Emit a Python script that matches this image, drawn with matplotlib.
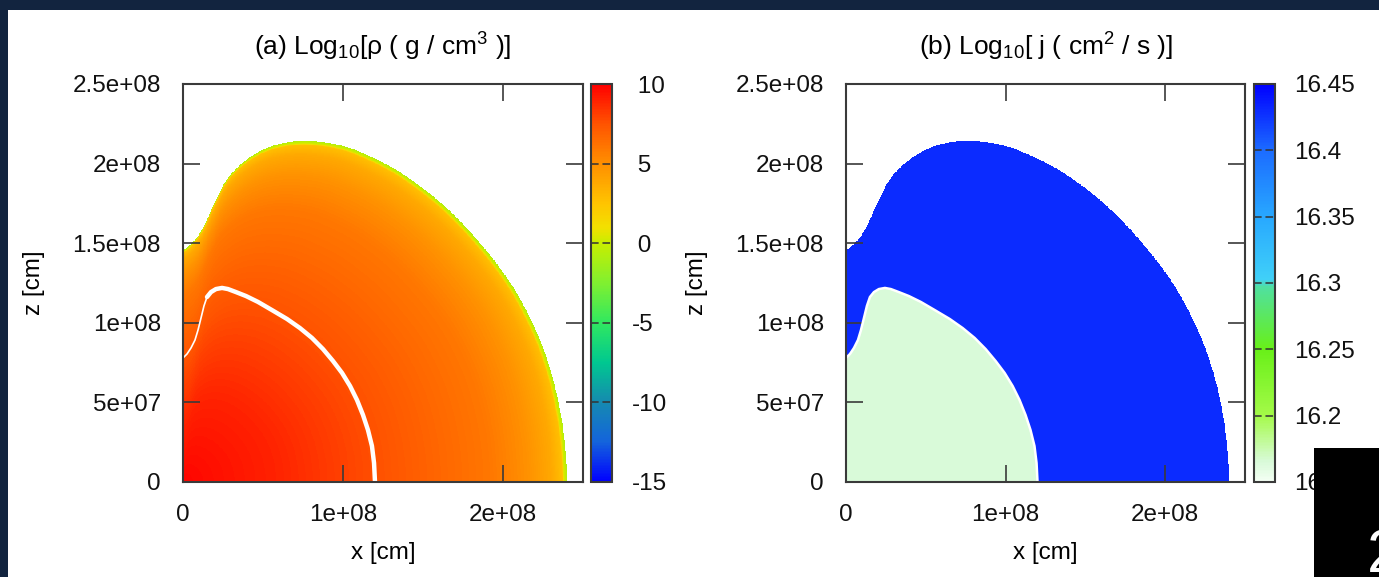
import numpy as np
import matplotlib
matplotlib.use("Agg")
import matplotlib.pyplot as plt
from matplotlib.colors import LinearSegmentedColormap
from matplotlib.patches import Rectangle

plt.rcParams['font.family'] = ['Liberation Sans', 'DejaVu Sans']
plt.rcParams['mathtext.fontset'] = 'custom'
plt.rcParams['mathtext.rm'] = 'Liberation Sans'
plt.rcParams['mathtext.it'] = 'Liberation Sans:italic'
plt.rcParams['mathtext.bf'] = 'Liberation Sans:bold'

# ---- data -------------------------------------------------------------
# stellar surface in the meridional plane (x, z in units of 1e8 cm)
surface_x = np.array([0.0, 0.031, 0.0625, 0.094, 0.125, 0.156, 0.1875, 0.219,
                      0.256, 0.30, 0.356, 0.419, 0.494, 0.575, 0.669, 0.7625,
                      0.856, 0.95, 1.044, 1.1375, 1.231, 1.356, 1.481, 1.606,
                      1.731, 1.856, 1.981, 2.075, 2.169, 2.244, 2.306, 2.35,
                      2.381, 2.394, 2.40])
surface_z = np.array([1.457, 1.476, 1.508, 1.545, 1.595, 1.658, 1.734, 1.796,
                      1.872, 1.935, 1.991, 2.041, 2.085, 2.117, 2.136, 2.142,
                      2.136, 2.123, 2.098, 2.060, 2.016, 1.947, 1.859, 1.759,
                      1.639, 1.501, 1.344, 1.206, 1.030, 0.861, 0.672, 0.484,
                      0.295, 0.138, 0.0])

# boundary of the inner core (units of 1e8 cm)
core_x = np.array([0.0, 0.025, 0.05, 0.075, 0.094, 0.1125, 0.131, 0.15, 0.175,
                   0.206, 0.244, 0.281, 0.331, 0.394, 0.469, 0.556, 0.65, 0.731,
                   0.806, 0.875, 0.9375, 0.994, 1.044, 1.0875, 1.125, 1.156,
                   1.181, 1.194, 1.20])
core_z = np.array([0.779, 0.804, 0.842, 0.892, 0.955, 1.030, 1.106, 1.162, 1.193,
                   1.212, 1.219, 1.212, 1.193, 1.168, 1.131, 1.080, 1.024, 0.967,
                   0.905, 0.835, 0.760, 0.685, 0.603, 0.515, 0.421, 0.327,
                   0.226, 0.119, 0.0])

# log10 density versus fraction of the surface radius
profile_frac = np.array([0.0, 0.25, 0.5, 0.65, 0.8, 0.9, 0.96, 0.988, 0.992, 1.0])
profile_logrho = np.array([9.8, 8.9, 7.6, 6.8, 6.0, 4.9, 3.8, 2.7, 0.6, -0.8])

# log10 specific angular momentum of core and envelope
logj_core = 16.165
logj_envelope = 16.43

x_ticks = [0, 1e8, 2e8]
x_tick_labels = ["0", "1e+08", "2e+08"]
z_ticks = [0, 5e7, 1e8, 1.5e8, 2e8, 2.5e8]
z_tick_labels = ["0", "5e+07", "1e+08", "1.5e+08", "2e+08", "2.5e+08"]
rho_ticks = [10, 5, 0, -5, -10, -15]
rho_tick_labels = [" 10", " 5", " 0", "-5", "-10", "-15"]
j_ticks = [16.15, 16.2, 16.25, 16.3, 16.35, 16.4, 16.45]
j_tick_labels = ["16.15", "16.2", "16.25", "16.3", "16.35", "16.4", "16.45"]

# ---- palettes -------------------------------------------------------
rho_cmap = LinearSegmentedColormap.from_list("rho", [
    (0.0, "#0000ff"), (0.1, "#1464dc"), (0.2, "#158ab0"), (0.3, "#00c890"),
    (0.4, "#30e860"), (0.5, "#80f030"), (0.6, "#c8ee00"), (0.64, "#f2e000"),
    (0.7, "#ffc400"), (0.8, "#ff9000"), (0.9, "#ff5400"), (1.0, "#ff0000")])
rho_cmap.set_bad((1, 1, 1, 0))

j_cmap = LinearSegmentedColormap.from_list("j", [
    (0.0, "#f4fff4"), (0.05, "#d8fad8"), (1 / 6, "#a4fa48"), (2 / 6, "#68f018"),
    (0.49, "#50e0a0"), (0.51, "#40d0f8"), (4 / 6, "#28a8ff"), (5 / 6, "#1c6cff"),
    (1.0, "#0000ff")])
j_cmap.set_bad((1, 1, 1, 0))

# ---- fields on a grid ----------------------------------------------
scale = 1e8
N = 900
g = (np.arange(N) + 0.5) / N * 2.5e8
X, Z = np.meshgrid(g, g)
R = np.hypot(X, Z)
TH = np.arctan2(Z, X)


def radius_of(bx, bz):
    th = np.arctan2(bz, bx)
    rr = np.hypot(bx, bz) * scale
    order = np.argsort(th)
    return np.interp(TH, th[order], rr[order])


s = R / radius_of(surface_x, surface_z)
outside = s > 1.0
inside_core = R <= radius_of(core_x, core_z)

logrho = np.ma.masked_where(outside, np.interp(s, profile_frac, profile_logrho))
logj = np.ma.masked_where(outside, np.where(inside_core, logj_core, logj_envelope))

# ---- figure ----------------------------------------------------------
W, H = 1379, 577
fig = plt.figure(figsize=(W / 100, H / 100), dpi=100)
fig.patch.set_facecolor("#12243f")
fig.patches.append(Rectangle((8 / W, 0), 1, (H - 10) / H, transform=fig.transFigure,
                             facecolor="white", edgecolor="none", zorder=-10))

frame_c = "#3a3a3a"
fs = 17.5


def fig_rect(l, r, t, b):
    return [l / W, (H - b) / H, (r - l) / W, (b - t) / H]


def style_axes(ax):
    ax.set_xlim(0, 2.5e8)
    ax.set_ylim(0, 2.5e8)
    ax.set_xticks(x_ticks)
    ax.set_xticklabels(x_tick_labels)
    ax.set_yticks(z_ticks)
    ax.set_yticklabels(z_tick_labels)
    ax.tick_params(direction="in", length=12, width=1.2, color=frame_c,
                   top=True, right=True, labelsize=fs, colors="#111111")
    ax.tick_params(axis="x", pad=16, color=frame_c)
    ax.tick_params(axis="y", pad=16, color=frame_c)
    for sp in ax.spines.values():
        sp.set_color(frame_c)
        sp.set_linewidth(1.5)
    ax.set_xlabel("x [cm]", fontsize=fs, labelpad=11)
    ax.set_ylabel("z [cm]", fontsize=fs, labelpad=20)


def style_cbar(cax, cb, ticks, labels, lo, hi):
    cb.outline.set_edgecolor(frame_c)
    cb.outline.set_linewidth(1.5)
    cax.set_yticks(ticks)
    cax.set_yticklabels(labels)
    cax.tick_params(length=0, labelsize=fs, pad=14, colors="#111111")
    for t in ticks:
        if lo < t < hi:
            cax.axhline(t, color="#333333", lw=1.1, ls=(0, (5, 2.5)))


# panel (a)
ax1 = fig.add_axes(fig_rect(183, 583, 84, 482))
im1 = ax1.imshow(logrho, origin="lower", extent=[0, 2.5e8, 0, 2.5e8],
                 cmap=rho_cmap, vmin=-15, vmax=10, aspect="auto",
                 interpolation="nearest")
ax1.plot(core_x[:9] * scale, core_z[:9] * scale, color="white", lw=1.2,
         solid_capstyle="round", solid_joinstyle="round")
ax1.plot(core_x[7:] * scale, core_z[7:] * scale, color="white", lw=3.2,
         solid_capstyle="round", solid_joinstyle="round")
style_axes(ax1)
cax1 = fig.add_axes(fig_rect(591, 612, 84, 482))
cb1 = fig.colorbar(im1, cax=cax1)
style_cbar(cax1, cb1, rho_ticks, rho_tick_labels, -15, 10)
fig.text(383 / W, 1 - 47 / H, r"(a) Log$_{10}$[ρ ( g / cm$^3$ )]",
         ha="center", va="center", fontsize=19)

# panel (b)
ax2 = fig.add_axes(fig_rect(846, 1245, 84, 482))
im2 = ax2.imshow(logj, origin="lower", extent=[0, 2.5e8, 0, 2.5e8],
                 cmap=j_cmap, vmin=16.15, vmax=16.45, aspect="auto",
                 interpolation="nearest")
ax2.plot(core_x * scale, core_z * scale, color="white", lw=1.8,
         solid_joinstyle="round")
style_axes(ax2)
cax2 = fig.add_axes(fig_rect(1254, 1275, 84, 482))
cb2 = fig.colorbar(im2, cax=cax2)
style_cbar(cax2, cb2, j_ticks, j_tick_labels, 16.15, 16.45)
fig.text(1046 / W, 1 - 47 / H, r"(b) Log$_{10}$[ j ( cm$^2$ / s )]",
         ha="center", va="center", fontsize=19)

# slide number box
fig.patches.append(Rectangle((1314 / W, 0), 1, (H - 448) / H,
                             transform=fig.transFigure, facecolor="black",
                             edgecolor="none", zorder=5))
fig.text(1367 / W, 5 / H, "2", color="white", fontsize=44, ha="left",
         va="baseline", zorder=6)

fig.savefig("out.png", dpi=100, facecolor=fig.get_facecolor())
